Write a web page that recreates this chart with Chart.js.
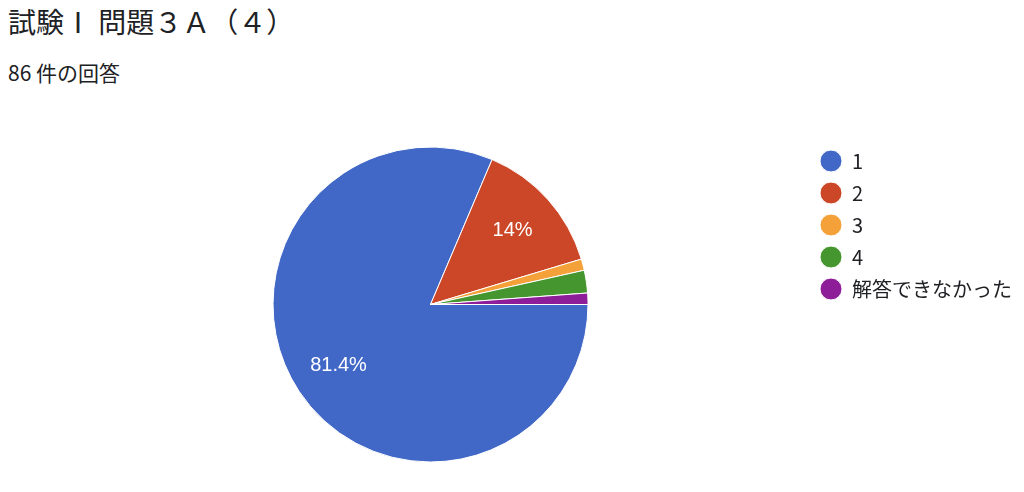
<!DOCTYPE html>
<html lang="ja">
<head>
<meta charset="utf-8">
<script src="https://cdn.jsdelivr.net/npm/chart.js@4/dist/chart.umd.min.js"></script>
<style>
    html, body { margin: 0; padding: 0; background: #fff; }
    body { width: 1024px; height: 492px; position: relative; overflow: hidden; font-family: 'Noto Sans CJK JP', sans-serif; color: #202124; }
    #title { position: absolute; left: 8px; top: 1px; font-size: 28px; line-height: 40px; white-space: pre; }
    #subtitle { position: absolute; left: 8px; top: 58px; font-size: 21px; line-height: 28px; white-space: pre; }
    #chart { position: absolute; left: 0; top: 0; }
</style>
</head>
<body>
<div id="title">試験Ⅰ 問題３Ａ（４）</div>
<div id="subtitle">86 件の回答</div>
<canvas id="chart" width="1024" height="492"></canvas>
<script>
// 回答データ
const labels = ['1', '2', '3', '4', '解答できなかった'];
const counts = [70, 12, 1, 2, 1];
const colors = ['#4167C7', '#CB4728', '#F4A13A', '#46962F', '#8D1D99'];

// 5%以上のスライスに割合を表示
const sliceLabels = {
    id: 'sliceLabels',
    afterDatasetsDraw(chart) {
        const ctx = chart.ctx;
        const data = chart.data.datasets[0].data;
        const total = data.reduce((a, b) => a + b, 0);
        ctx.save();
        ctx.fillStyle = '#fff';
        ctx.font = '20px "Liberation Sans", Arial, sans-serif';
        ctx.textAlign = 'center';
        ctx.textBaseline = 'middle';
        chart.getDatasetMeta(0).data.forEach((arc, i) => {
            const pct = data[i] / total * 100;
            if (pct < 5) return;
            const { x, y, startAngle, endAngle, outerRadius } = arc.getProps(['x', 'y', 'startAngle', 'endAngle', 'outerRadius'], true);
            const mid = (startAngle + endAngle) / 2;
            const r = outerRadius * 0.7;
            const text = parseFloat(pct.toFixed(1)) + '%';
            ctx.fillText(text, x + Math.cos(mid) * r, y + Math.sin(mid) * r);
        });
        ctx.restore();
    }
};

new Chart(document.getElementById('chart'), {
    type: 'pie',
    data: {
        labels,
        datasets: [{
            data: counts,
            backgroundColor: colors,
            borderColor: '#fff',
            borderWidth: 1
        }]
    },
    options: {
        responsive: false,
        animation: false,
        rotation: 90,
        radius: 157.5,
        layout: {
            padding: { left: 53, right: 2, top: 139, bottom: 22 }
        },
        plugins: {
            tooltip: { enabled: false },
            legend: {
                position: 'right',
                align: 'start',
                labels: {
                    usePointStyle: true,
                    pointStyle: 'circle',
                    pointStyleWidth: 22,
                    boxHeight: 15.5,
                    padding: 12,
                    color: '#202124',
                    font: { size: 20, family: "'Noto Sans CJK JP', sans-serif" }
                }
            }
        }
    },
    plugins: [sliceLabels]
});
</script>
</body>
</html>
